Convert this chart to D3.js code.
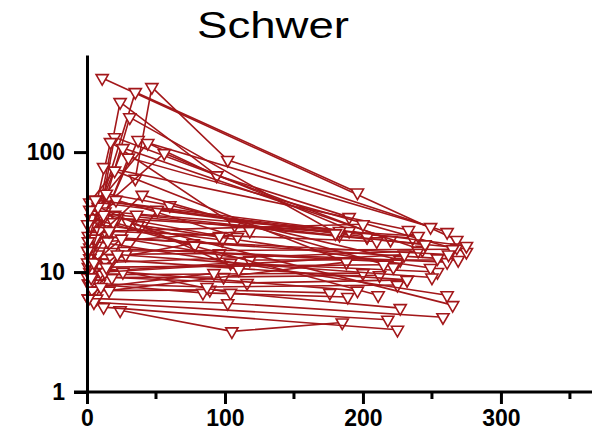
<!DOCTYPE html>
<html>
<head>
<meta charset="utf-8">
<script src="https://cdn.jsdelivr.net/npm/d3@7"></script>
<style>
  body { margin: 0; background: #fff; }
  svg { display: block; font-family: "Liberation Sans", Arial, sans-serif; }
</style>
</head>
<body>
<svg id="chart" width="600" height="437"></svg>
<script>
// Zeitpunkte (Tage) je Patient
const tage = [
  [11, 268], [35, 47, 102, 261], [4, 35, 196], [8, 24, 94, 190], [2, 31, 183],
  [6, 20, 220], [5, 17, 107, 236], [12, 37, 249], [10, 44, 94], [12, 56, 203],
  [12, 233], [1, 26, 243], [3, 30, 275], [14, 60, 227], [2, 20, 188],
  [3, 77], [5, 98], [8, 96, 225], [2, 104, 254], [15, 118, 269],
  [4, 99, 212], [6, 89, 176], [1, 84, 189], [10, 104, 227], [18, 116, 232],
  [7, 102, 258], [24, 105, 185], [9, 87, 225], [12, 225], [5, 218],
  [2, 261], [37, 249], [30, 265], [6, 261], [3, 211],
  [14, 240], [8, 203], [20, 268], [4, 254], [11, 200],
  [16, 188], [2, 232], [13, 190], [22, 240], [7, 275],
  [26, 196], [1, 19, 78], [3, 21, 109], [0.5, 9, 210], [18, 36, 245],
  [1, 27, 265], [28, 51, 183], [6, 40, 222],
  [0.5, 12, 96], [2, 15, 118], [1, 8, 110], [4, 13, 230], [3, 22, 250],
  [0.5, 6, 180], [1, 10, 92], [2, 16, 200], [5, 25, 262], [0.5, 14, 215]
];
// Messwerte je Patient
const werte = [
  [414, 18.5], [60, 348, 86, 21.5], [22, 316, 46], [30, 261, 64, 28.7], [14, 195, 20.4],
  [18, 133, 18.5], [30, 121, 24.6, 19.2], [28, 126, 23.7], [40, 119, 64], [35, 98, 19.6],
  [75, 22.4], [20, 108, 15.3], [15, 90, 14.7], [45, 36, 12.6], [38, 70, 12.1],
  [12, 17.4], [25, 18.5], [14, 14.3, 12.1], [10, 11.9, 10.0], [20, 12.6, 12.6],
  [9, 9.1, 9.4], [7, 7.1, 6.7], [8, 6.7, 6.2], [11, 6.7, 5.0], [9, 8.1, 8.6],
  [6, 5.5, 4.2], [4.8, 3.2, 3.8], [8, 7.5, 7.8], [5.1, 3.3], [5.6, 4.0],
  [16, 12.1], [24.6, 10.8], [25.6, 5.3], [18, 6.4], [28, 6.4],
  [12, 15], [38, 19.6], [30, 16], [20, 13], [9.5, 9.8],
  [7, 12.1], [13, 8.6], [32, 22], [28, 20], [40, 16.5],
  [10, 7], [11, 26, 16.7], [24, 40, 19.6], [9, 22, 18], [13, 30, 17],
  [6, 15, 15.5], [14, 33, 22], [19, 44, 11],
  [12, 30, 20], [8, 18, 22], [18, 35, 10.5], [7, 10, 14], [9, 14, 9],
  [25, 40, 21], [6, 7.5, 9.8], [33, 22, 25], [12, 19, 14], [15, 11, 11.5]
];
const xTicks = [0, 100, 200, 300];
const xMinor = [50, 150, 250, 350];
const yTicks = [1, 10, 100];

const svg = d3.select("#chart");
const farbe = "#a3171a";

const x = d3.scaleLinear().domain([0, 366]).range([87, 592]);
const y = d3.scaleLog().domain([1, 645]).range([392, 55]);

// Titel
svg.append("text")
  .attr("x", 273).attr("y", 38)
  .attr("text-anchor", "middle")
  .attr("font-size", 37)
  .attr("textLength", 152)
  .attr("lengthAdjust", "spacingAndGlyphs")
  .text("Schwer");

// Linien + Symbole je Patient
const line = d3.line().x(d => x(d[0])).y(d => y(d[1]));
const tri = d3.symbol().type(d3.symbolTriangle).size(64);

const g = svg.append("g");
tage.forEach((t, i) => {
  const pts = t.map((d, j) => [d, werte[i][j]]);
  g.append("path")
    .attr("d", line(pts))
    .attr("fill", "none")
    .attr("stroke", farbe)
    .attr("stroke-width", 1.6);
  g.selectAll(null)
    .data(pts)
    .enter().append("path")
    .attr("d", tri)
    .attr("transform", d => `translate(${x(d[0])},${y(d[1])}) rotate(180)`)
    .attr("fill", "#fff")
    .attr("stroke", farbe)
    .attr("stroke-width", 1.6);
});

// Achsen
const xAxis = svg.append("g")
  .attr("transform", `translate(0,${y(1)})`)
  .call(d3.axisBottom(x).tickValues(xTicks).tickSize(12).tickSizeOuter(0).tickPadding(6));
xAxis.append("g").selectAll("line")
  .data(xMinor).enter().append("line")
  .attr("x1", d => x(d)).attr("x2", d => x(d))
  .attr("y1", 0).attr("y2", 7)
  .attr("stroke", "#000").attr("stroke-width", 3);

const yAxis = svg.append("g")
  .attr("transform", `translate(${x(0)},0)`)
  .call(d3.axisLeft(y).tickValues(yTicks).tickFormat(d3.format("d")).tickSize(13).tickSizeOuter(0).tickPadding(9));

[xAxis, yAxis].forEach(a => {
  a.select(".domain").attr("stroke", "#000").attr("stroke-width", 3);
  a.selectAll(".tick line").attr("stroke", "#000").attr("stroke-width", 3);
  a.selectAll(".tick text")
    .attr("fill", "#000")
    .attr("font-size", 23)
    .attr("font-weight", "bold")
    .attr("font-family", "'Liberation Sans', Arial, sans-serif");
});
// x-Achse beginnt links am y-Tick
xAxis.select(".domain").attr("d", `M${x(0) - 13},0H${x(366)}`);
</script>
</body>
</html>
